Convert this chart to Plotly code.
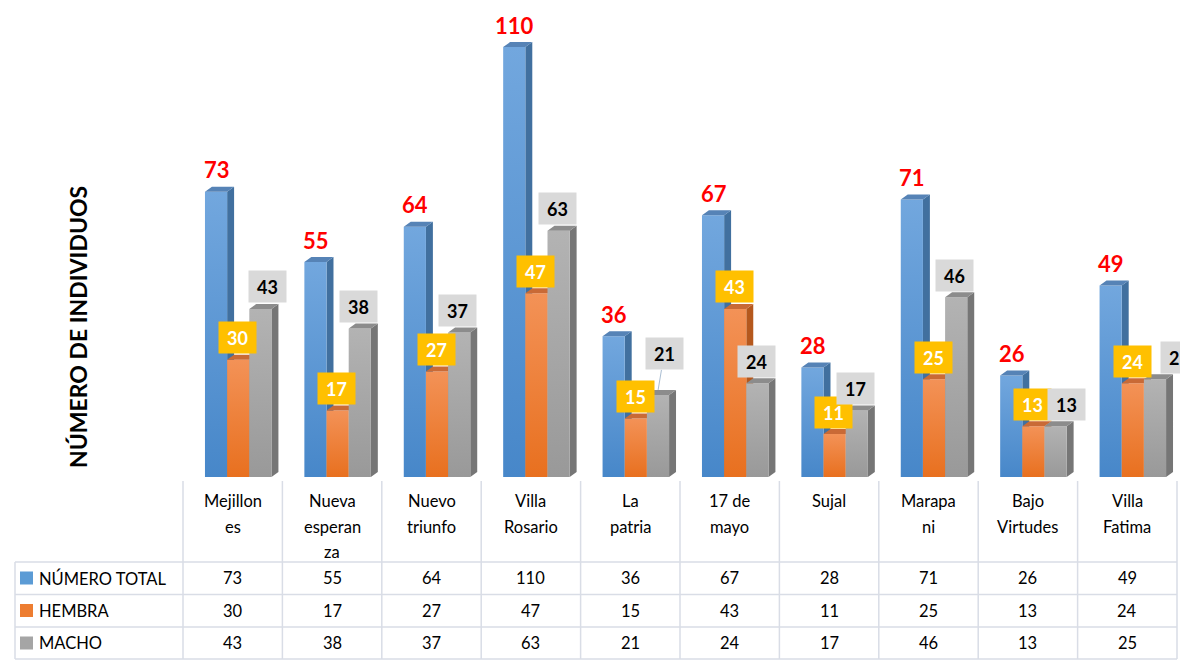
import plotly.graph_objects as go

# ---- data ----
categories = ["Mejillon\nes", "Nueva\nesperan\nza", "Nuevo\ntriunfo", "Villa\nRosario",
              "La\npatria", "17 de\nmayo", "Sujal", "Marapa\nni", "Bajo\nVirtudes",
              "Villa\nFatima"]
series_names = ["NÚMERO TOTAL", "HEMBRA", "MACHO"]
total = [73, 55, 64, 110, 36, 67, 28, 71, 26, 49]
hembra = [30, 17, 27, 47, 15, 43, 11, 25, 13, 24]
macho = [43, 38, 37, 63, 21, 24, 17, 46, 13, 25]
series_values = [total, hembra, macho]

# ---- geometry / style ----
W, H = 1188, 669
PAGE_PAD = 8                # page body margin pushes the figure by this much
X0, X1 = 183, 1177          # plot area as seen on the page (px)
Y_TOP, Y_BASE = 8, 477
PW, PH = X1 - X0, Y_BASE - Y_TOP
Y_MAX = 120
BAR_W = 0.223
DX = 0.07                   # 3d depth (x units)
DY = 5 * Y_MAX / PH         # 3d depth (y units)
FONT = "Lato"

STYLES = [
    dict(offset=-0.279, light="#72a7de", dark="#4787c9", side="#41709f", top="#5683b6",
         key="#5b9bd5"),
    dict(offset=-0.056, light="#f39257", dark="#e8701f", side="#b5581d", top="#c96a36",
         key="#ed7d31"),
    dict(offset=0.167, light="#b3b3b3", dark="#999999", side="#767676", top="#8c8c8c",
         key="#a5a5a5"),
]


def fx(px):
    return (px - X0) / PW


def fy(py):
    return (Y_BASE - py) / PH


n = len(categories)
fig = go.Figure()

for s, vals in enumerate(series_values):
    st = STYLES[s]
    lefts = [i + st["offset"] for i in range(n)]

    # side faces
    xs, ys = [], []
    for l, v in zip(lefts, vals):
        r = l + BAR_W
        xs += [r, r, r + DX, r + DX, r, None]
        ys += [0, v, v + DY, DY, 0, None]
    fig.add_trace(go.Scatter(x=xs, y=ys, fill="toself", fillcolor=st["side"],
                             mode="lines", line=dict(width=0), hoverinfo="skip",
                             showlegend=False))

    # front faces (own gradient per bar)
    for l, v in zip(lefts, vals):
        r = l + BAR_W
        fig.add_trace(go.Scatter(
            x=[l, r, r, l, l], y=[0, 0, v, v, 0], fill="toself",
            fillgradient=dict(type="vertical", start=0, stop=v,
                              colorscale=[[0, st["dark"]], [1, st["light"]]]),
            mode="lines", line=dict(width=0), hoverinfo="skip", showlegend=False))

    # top faces
    xs, ys = [], []
    for l, v in zip(lefts, vals):
        r = l + BAR_W
        xs += [l, r, r + DX, l + DX, l, None]
        ys += [v, v, v + DY, v + DY, v, None]
    fig.add_trace(go.Scatter(x=xs, y=ys, fill="toself", fillcolor=st["top"],
                             mode="lines", line=dict(width=0), hoverinfo="skip",
                             showlegend=False))

annotations = []

# data labels
macho_nudge = {0: (8, 0), 8: (12, 0), 9: (26, 0)}
for i in range(n):
    annotations.append(dict(
        x=i - 0.163, y=total[i], yshift=22, text=f"<b>{total[i]}</b>", showarrow=False,
        font=dict(family=FONT, size=22, color="#ff0000")))
    annotations.append(dict(
        x=i + 0.048, y=hembra[i], yshift=22, text=f"<b>{hembra[i]}</b>", showarrow=False,
        bgcolor="#ffc000", width=35, height=29, borderpad=1,
        font=dict(family=FONT, size=18, color="white")))
    dx, dy = macho_nudge.get(i, (0, 0))
    if i == 4:
        # pushed-up label with leader line
        annotations.append(dict(
            x=i + 0.28, y=macho[i] + DY, text=f"<b>{macho[i]}</b>", showarrow=True,
            arrowhead=0, arrowwidth=1, arrowcolor="#a9bdd2", ax=6, ay=-36,
            bgcolor="#d9d9d9", width=35, height=29, borderpad=1,
            font=dict(family=FONT, size=18, color="black")))
    else:
        annotations.append(dict(
            x=i + 0.265, y=macho[i], xshift=dx, yshift=22 + dy, text=f"<b>{macho[i]}</b>",
            showarrow=False, bgcolor="#d9d9d9", width=35, height=29, borderpad=1,
            font=dict(family=FONT, size=18, color="black")))

# y-axis title
annotations.append(dict(
    xref="paper", yref="paper", x=fx(78), y=fy(327), xanchor="center", yanchor="middle",
    text="<b>NÚMERO DE INDIVIDUOS</b>", textangle=-90, showarrow=False,
    font=dict(family=FONT, size=23, color="black")))

# ---- data table ----
LINE = "#d9dde6"
shapes = []
for k in range(n + 1):
    shapes.append(dict(type="line", xref="paper", yref="paper", x0=k / n, x1=k / n,
                       y0=fy(481), y1=fy(659), line=dict(color=LINE, width=1.5)))
for py in [562, 594.5, 627, 659]:
    shapes.append(dict(type="line", xref="paper", yref="paper", x0=fx(15), x1=1,
                       y0=fy(py), y1=fy(py), line=dict(color=LINE, width=1.5)))
shapes.append(dict(type="line", xref="paper", yref="paper", x0=fx(15), x1=fx(15),
                   y0=fy(562), y1=fy(659), line=dict(color=LINE, width=1.5)))

header_lines_y = [501, 526.5, 552]
for i, cat in enumerate(categories):
    for k, part in enumerate(cat.split("\n")):
        annotations.append(dict(
            xref="paper", yref="paper", x=(i + 0.5) / n, y=fy(header_lines_y[k]),
            xanchor="center", yanchor="middle", text=part, showarrow=False,
            font=dict(family=FONT, size=16.5, color="black")))

row_y = [578, 610.5, 643]
for r, (name, vals) in enumerate(zip(series_names, series_values)):
    shapes.append(dict(type="rect", xref="paper", yref="paper",
                       x0=fx(20), x1=fx(33), y0=fy(row_y[r] - 6.5), y1=fy(row_y[r] + 6.5),
                       fillcolor=STYLES[r]["key"], line=dict(width=0)))
    annotations.append(dict(
        xref="paper", yref="paper", x=fx(37), y=fy(row_y[r]), xanchor="left",
        yanchor="middle", text=name, showarrow=False,
        font=dict(family=FONT, size=16.5, color="black")))
    for i, v in enumerate(vals):
        annotations.append(dict(
            xref="paper", yref="paper", x=(i + 0.5) / n, y=fy(row_y[r]),
            xanchor="center", yanchor="middle", text=str(v), showarrow=False,
            font=dict(family=FONT, size=16.5, color="black")))

fig.update_layout(
    width=W, height=H,
    margin=dict(l=X0 - PAGE_PAD, r=W - X1 + PAGE_PAD, t=Y_TOP - PAGE_PAD,
                b=H - Y_BASE + PAGE_PAD),
    paper_bgcolor="white", plot_bgcolor="white",
    xaxis=dict(range=[-0.5, n - 0.5], visible=False, fixedrange=True),
    yaxis=dict(range=[0, Y_MAX], visible=False, fixedrange=True),
    annotations=annotations, shapes=shapes, showlegend=False,
    font=dict(family=FONT),
)

fig.write_html("out.html")
